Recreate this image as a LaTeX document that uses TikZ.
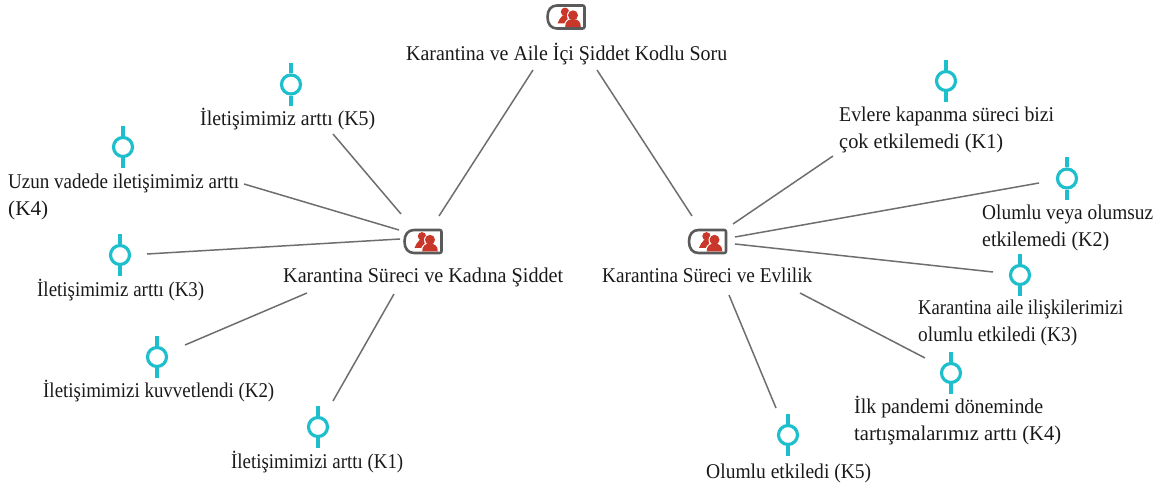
\documentclass[tikz,border=0pt]{standalone}
\usepackage{fontspec}
\setmainfont{Liberation Serif}
\usetikzlibrary{calc}
\definecolor{pincol}{HTML}{1EBFCC}
\definecolor{hubgray}{HTML}{5A5A5A}
\definecolor{hubred}{HTML}{C9372A}
\definecolor{linkgray}{HTML}{6E6E6E}
\tikzset{
  x=1bp,y=-1bp,
  linkline/.style={draw=linkgray,line width=1.5bp},
  lbl/.style={inner sep=0pt,font=\fontsize{21bp}{26.8bp}\selectfont,text=black!90,align=left},
  pinnode/.style={circle,draw=pincol,line width=3.2bp,minimum size=19bp,inner sep=0pt},
  hubnode/.style={minimum width=38bp,minimum height=24bp,inner sep=0pt}
}
\newcommand{\fitw}[2]{\resizebox{#1bp}{\height}{#2}}
\newcommand{\hubicon}[3]{%
  \node[hubnode] (#1) at (#2,#3) {};
  \begin{scope}[shift={(#1.center)}]
    \draw[hubgray,line width=2.6bp,line join=round] (-9,-11.5) -- (16.5,-11.5) .. controls (18,-11.5) and (18.5,-11) .. (18.5,-9.5) -- (18.5,9.5) .. controls (18.5,11) and (18,11.5) .. (16.5,11.5) -- (-9,11.5) .. controls (-15,11.5) and (-18.5,7) .. (-18.5,0) .. controls (-18.5,-7) and (-15,-11.5) .. (-9,-11.5) -- cycle;
    \fill[hubred] (-1,-5.2) circle (4.2);
    \fill[hubred] (-8.5,6.5) .. controls (-8,3) and (-5,1) .. (-3.5,-1.5) -- (2,-2) -- (1,6.5) -- cycle;
    \fill[white] (7,-1.5) circle (6);
    \fill[white] (-2,9.5) .. controls (-2,4) and (1,1.5) .. (7,1.5) -- (16,9.5) -- cycle;
    \fill[hubred] (7,-1.7) circle (5);
    \fill[hubred] (-0.8,10) .. controls (-0.8,4.5) and (2,2.2) .. (7,2.2) .. controls (12,2.2) and (14.8,4.5) .. (14.8,10) -- cycle;
  \end{scope}}
\newcommand{\pinicon}[3]{%
  \node[pinnode] (#1) at (#2,#3) {};
  \draw[pincol,line width=3.2bp] (#1.north) -- ++(0,-10);
  \draw[pincol,line width=3.2bp] (#1.south) -- ++(0,10);}
\begin{document}
\begin{tikzpicture}
\useasboundingbox (0,0) rectangle (1159,487);
\hubicon{root}{566}{17}
\hubicon{hubL}{423}{241.5}
\hubicon{hubR}{707.5}{241.5}
\node[lbl,anchor=base west] (rootT) at (406,60.5) {\fitw{321}{Karantina ve Aile İçi Şiddet Kodlu Soru}};
\node[lbl,anchor=base west] (hubLT) at (283,283) {\fitw{280}{Karantina Süreci ve Kadına Şiddet}};
\node[lbl,anchor=base west] (hubRT) at (602,283) {\fitw{210}{Karantina Süreci ve Evlilik}};
% left pins
\pinicon{pa}{291}{84.5}
\node[lbl,anchor=base west] (ta) at (200,126) {\fitw{175}{İletişimimiz arttı (K5)}};
\pinicon{pb}{123}{147}
\node[lbl,anchor=north west] (tb) at (8,174) {\fitw{231}{Uzun vadede iletişimimiz arttı}\\\fitw{40}{(K4)}};
\pinicon{pc}{120}{255}
\node[lbl,anchor=base west] (tc) at (37,296.5) {\fitw{167}{İletişimimiz arttı (K3)}};
\pinicon{pd}{157}{357}
\node[lbl,anchor=base west] (td) at (43,397.5) {\fitw{231}{İletişimimizi kuvvetlendi (K2)}};
\pinicon{pe}{318}{427}
\node[lbl,anchor=base west] (te) at (231,468) {\fitw{172}{İletişimimizi arttı (K1)}};
% right pins
\pinicon{qa}{946}{81}
\node[lbl,anchor=north west] (ua) at (839,107) {\fitw{215}{Evlere kapanma süreci bizi}\\\fitw{164}{çok etkilemedi (K1)}};
\pinicon{qb}{1067}{178.5}
\node[lbl,anchor=north west] (ub) at (982,205) {\fitw{171}{Olumlu veya olumsuz}\\\fitw{127}{etkilemedi (K2)}};
\pinicon{qc}{1020}{275}
\node[lbl,anchor=north west] (uc) at (918,300) {\fitw{205}{Karantina aile ilişkilerimizi}\\\fitw{159}{olumlu etkiledi (K3)}};
\pinicon{qd}{951}{373}
\node[lbl,anchor=north west] (ud) at (854,396) {\fitw{189}{İlk pandemi döneminde}\\\fitw{207}{tartışmalarımız arttı (K4)}};
\pinicon{qe}{788}{435}
\node[lbl,anchor=base west] (ue) at (706,478) {\fitw{165}{Olumlu etkiledi (K5)}};
% connector ends
\foreach \n/\x/\y in {r1/533/70,r2/597/70,l0/439/216,l1/692/216,
  a1/333/134,a2/401/214,b1/244/184,b2/399/230,c1/147/254,c2/400/239,
  d1/185/345,d2/307/293,e1/333/401,e2/394/294,
  f1/833/156,f2/733/224,g1/1039/183,g2/735/237,h1/993/272,h2/735/244,
  i1/925/358,i2/800/293,j1/776/408,j2/729/295}
  \coordinate (\n) at (\x,\y);
\foreach \s/\t in {r1/l0,r2/l1,a1/a2,b1/b2,c1/c2,d1/d2,e1/e2,f1/f2,g1/g2,h1/h2,i1/i2,j1/j2}
  \draw[linkline] (\s) -- (\t);
\end{tikzpicture}
\end{document}
